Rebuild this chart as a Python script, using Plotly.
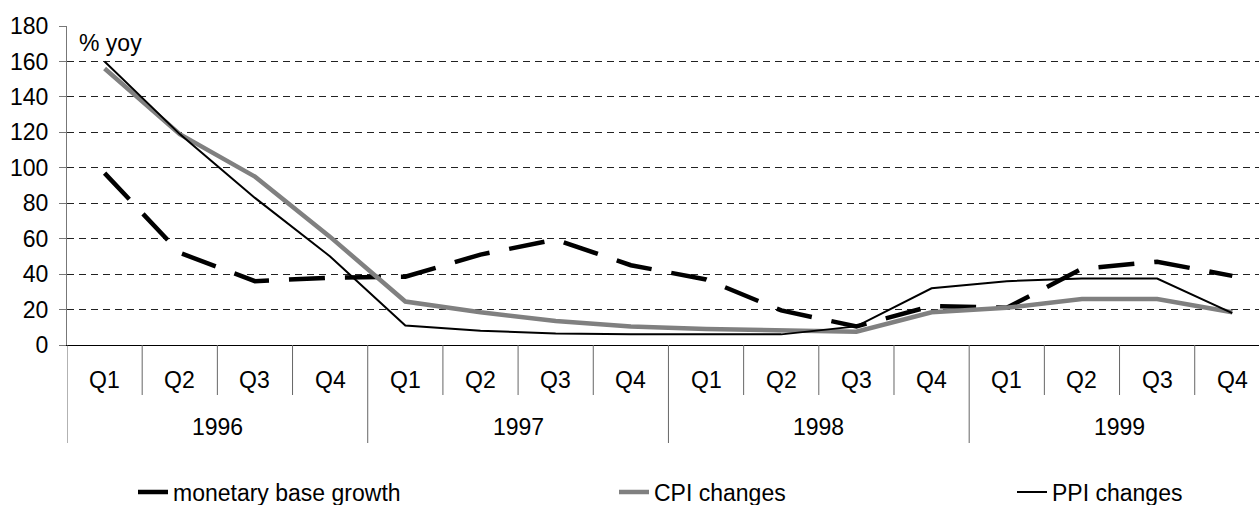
import plotly.graph_objects as go

quarters = ["Q1", "Q2", "Q3", "Q4"] * 4
years = ["1996", "1997", "1998", "1999"]
monetary_base = [97, 52, 36, 38, 38.5, 51, 59.5, 45, 37, 19.5, 10.5, 22, 21, 43, 47, 39]
cpi = [156, 119, 95, 61, 24.5, 18.5, 13.5, 10.5, 9, 8, 7.5, 18.5, 21, 26, 26, 18.5]
ppi = [160, 119, 83, 50, 11, 8, 6.5, 6, 6, 6, 10.5, 32, 36, 37.5, 37.5, 18]
y_ticks = list(range(0, 181, 20))

FONT = "Liberation Sans, Arial, sans-serif"
FS = 23
W, H = 1259, 505
L, T, B = 67, 26, 160
plot_h = H - T - B
plot_w = W - L

x = list(range(len(quarters)))

fig = go.Figure()
fig.add_trace(go.Scatter(x=x, y=monetary_base, mode="lines", name="monetary base growth",
                         line=dict(color="black", width=4.5, dash="36px,20px"), legend="legend"))
fig.add_trace(go.Scatter(x=x, y=cpi, mode="lines", name="CPI changes",
                         line=dict(color="#808080", width=4.5), legend="legend2"))
fig.add_trace(go.Scatter(x=x, y=ppi, mode="lines", name="PPI changes",
                         line=dict(color="black", width=2), legend="legend3"))

def py(px_from_top):
    return (H - B - px_from_top) / plot_h

def pxp(px_from_left):
    return (px_from_left - L) / plot_w

shapes = []
for k in range(len(quarters)):
    is_year = (k % 4 == 0)
    shapes.append(dict(type="line", xref="x", yref="paper", x0=k - 0.5, x1=k - 0.5,
                       y0=0, y1=py(443 if is_year else 395),
                       line=dict(color="#666666", width=1)))

annotations = []
for k, q in enumerate(quarters):
    annotations.append(dict(x=k, y=py(380), xref="x", yref="paper", text=q, showarrow=False,
                            font=dict(size=FS, color="black", family=FONT),
                            xanchor="center", yanchor="middle"))
for i, yr in enumerate(years):
    annotations.append(dict(x=i * 4 + 1.5, y=py(427), xref="x", yref="paper", text=yr,
                            showarrow=False, font=dict(size=FS, color="black", family=FONT),
                            xanchor="center", yanchor="middle"))
annotations.append(dict(x=pxp(77), y=py(43), xref="paper", yref="paper", text="% yoy",
                        showarrow=False, font=dict(size=FS, color="black", family=FONT),
                        xanchor="left", yanchor="middle"))

leg_common = dict(orientation="h", xref="container", yref="container", yanchor="middle",
                  y=13 / H, xanchor="left", bgcolor="rgba(0,0,0,0)",
                  font=dict(size=FS, color="black", family=FONT))

fig.update_layout(
    width=W, height=H,
    margin=dict(l=L, r=0, t=T, b=B, autoexpand=False),
    paper_bgcolor="white", plot_bgcolor="white",
    font=dict(family=FONT, size=FS, color="black"),
    showlegend=True,
    legend=dict(x=(173 - 40) / W, **leg_common),
    legend2=dict(x=(654 - 40) / W, **leg_common),
    legend3=dict(x=(1052 - 40) / W, **leg_common),
    xaxis=dict(range=[-0.5, 15.355], showticklabels=False, showgrid=False, zeroline=False,
               showline=True, linecolor="black", linewidth=1, ticks="", automargin=False),
    yaxis=dict(range=[0, 180], tickvals=y_ticks, showgrid=True, gridcolor="#222222",
               gridwidth=1, griddash="7px,5px", zeroline=False, showline=True,
               linecolor="#777777", linewidth=1, ticks="outside", ticklen=7,
               tickcolor="#777777", ticklabelstandoff=6, automargin=False,
               tickfont=dict(size=FS, color="black", family=FONT)),
    shapes=shapes,
    annotations=annotations,
)

fig.write_html("out.html", config={"displayModeBar": False},
               post_script="document.body.style.margin='0';")
